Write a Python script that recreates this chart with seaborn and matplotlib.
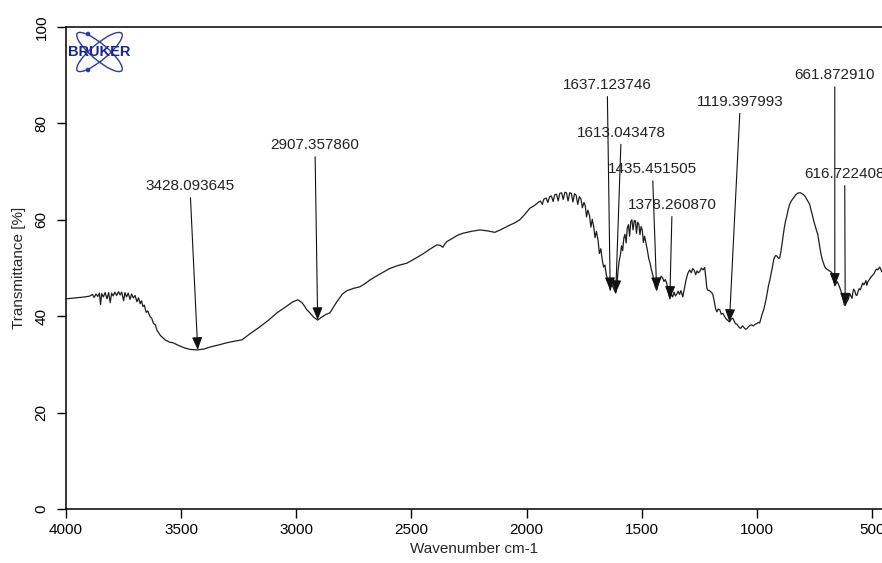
import seaborn as sns
import matplotlib.pyplot as plt
from matplotlib.patches import Ellipse, Circle

# spectrum (wavenumber in cm-1, transmittance in %)
wavenumber = [
    4000, 3980, 3961, 3940, 3918, 3905, 3896, 3885, 3878, 3870,
    3862, 3855, 3850, 3845, 3838, 3830, 3822, 3815, 3808, 3802,
    3795, 3788, 3780, 3772, 3765, 3758, 3750, 3744, 3737, 3730,
    3722, 3715, 3708, 3700, 3692, 3685, 3678, 3672, 3666, 3660,
    3652, 3645, 3635, 3628, 3620, 3612, 3605, 3590, 3570, 3550,
    3536, 3510, 3484, 3460, 3431, 3400, 3375, 3340, 3301, 3270,
    3236, 3200, 3158, 3120, 3084, 3050, 3015, 2993, 2975, 2963,
    2954, 2941, 2925, 2907, 2890, 2870, 2854, 2840, 2824, 2800,
    2780, 2750, 2724, 2700, 2681, 2650, 2620, 2594, 2560, 2520,
    2490, 2451, 2420, 2390, 2375, 2364, 2355, 2346, 2320, 2300,
    2277, 2240, 2203, 2170, 2138, 2110, 2073, 2050, 2030, 2010,
    1986, 1965, 1950, 1940, 1932, 1925, 1915, 1908, 1900, 1892,
    1885, 1878, 1870, 1863, 1856, 1848, 1841, 1834, 1827, 1820,
    1813, 1806, 1799, 1792, 1785, 1778, 1771, 1764, 1758, 1751,
    1745, 1740, 1734, 1727, 1721, 1715, 1709, 1703, 1697, 1690,
    1684, 1678, 1672, 1666, 1660, 1654, 1648, 1643, 1637, 1632,
    1627, 1621, 1613, 1608, 1603, 1598, 1593, 1588, 1583, 1578,
    1573, 1568, 1563, 1558, 1553, 1548, 1543, 1538, 1533, 1528,
    1523, 1518, 1513, 1508, 1503, 1498, 1493, 1488, 1482, 1476,
    1470, 1464, 1458, 1452, 1446, 1441, 1435, 1429, 1422, 1416,
    1410, 1404, 1398, 1392, 1385, 1378, 1372, 1366, 1360, 1354,
    1348, 1342, 1336, 1330, 1322, 1315, 1308, 1300, 1292, 1285,
    1279, 1272, 1266, 1260, 1254, 1248, 1241, 1234, 1227, 1222,
    1218, 1214, 1206, 1199, 1192, 1185, 1179, 1174, 1168, 1161,
    1155, 1148, 1142, 1135, 1128, 1119, 1112, 1105, 1099, 1093,
    1088, 1082, 1076, 1070, 1063, 1057, 1050, 1044, 1037, 1030,
    1023, 1016, 1008, 1000, 994, 988, 983, 977, 971, 966,
    960, 955, 950, 944, 938, 932, 927, 923, 918, 912,
    906, 901, 896, 891, 886, 881, 876, 871, 865, 858,
    851, 845, 838, 831, 824, 817, 811, 804, 797, 790,
    783, 777, 771, 765, 759, 753, 747, 741, 736, 731,
    726, 721, 716, 711, 706, 700, 694, 688, 682, 676,
    671, 667, 662, 657, 652, 646, 641, 636, 631, 626,
    621, 617, 612, 607, 602, 597, 592, 587, 584, 580,
    575, 570, 566, 561, 556, 551, 546, 541, 536, 531,
    527, 523, 518, 512, 507, 502, 497, 492, 488, 484,
    479, 475, 471, 467, 462, 458,
]
transmittance = [
    43.6, 43.7, 43.8, 43.9, 44.0, 44.1, 44.2, 44.5, 43.9, 44.6,
    44.1, 44.8, 42.4, 44.7, 44.0, 44.9, 43.6, 44.9, 42.8, 44.8,
    44.2, 45.0, 44.3, 45.1, 44.4, 45.0, 43.2, 44.9, 44.0, 44.8,
    43.5, 44.6, 43.8, 44.3, 43.0, 43.8, 42.6, 43.2, 42.0, 42.3,
    40.8, 41.1, 39.9, 39.6, 38.5, 38.2, 37.1, 36.0, 35.1, 34.6,
    34.5, 33.9, 33.4, 33.1, 33.0, 33.2, 33.6, 34.0, 34.5, 34.8,
    35.1, 36.4, 37.8, 39.2, 40.7, 41.8, 43.0, 43.4, 42.8, 42.0,
    41.3, 40.7, 39.8, 39.2, 39.8, 40.4, 40.7, 41.8, 43.0, 44.6,
    45.3, 45.8, 46.1, 46.8, 47.5, 48.4, 49.2, 49.9, 50.5, 51.0,
    51.8, 52.9, 53.9, 54.8, 54.7, 54.3, 55.0, 55.5, 56.2, 56.8,
    57.2, 57.6, 57.9, 57.7, 57.4, 58.0, 58.9, 59.4, 60.0, 61.0,
    62.4, 63.0, 63.6, 63.9, 63.2, 64.3, 64.5, 63.6, 64.8, 64.9,
    63.8, 65.2, 65.3, 63.9, 65.5, 65.6, 64.2, 65.7, 65.6, 63.9,
    65.6, 65.5, 63.7, 65.4, 65.1, 63.2, 64.8, 64.3, 62.5, 63.6,
    62.8, 60.6, 62.0, 60.9, 58.5, 60.1, 58.6, 56.3, 57.6, 55.8,
    53.0, 54.0, 51.8, 50.2, 50.6, 48.6, 47.5, 46.8, 45.4, 46.6,
    46.3, 45.6, 44.8, 46.5, 49.5, 51.5, 52.7, 54.6, 53.6, 56.2,
    57.0, 55.2, 58.3, 59.0, 56.6, 59.6, 60.0, 57.9, 59.8, 59.8,
    57.2, 59.5, 59.1, 56.9, 58.6, 57.9, 55.3, 56.6, 55.2, 53.8,
    52.0, 51.0, 49.6, 48.5, 47.0, 46.0, 45.4, 46.6, 47.5, 48.3,
    48.0, 47.2, 47.6, 46.9, 45.0, 43.6, 44.6, 44.0, 45.0, 44.2,
    44.6, 45.2, 44.5, 45.3, 44.0, 45.8, 47.5, 48.9, 49.6, 49.0,
    49.9, 49.5, 48.6, 49.4, 49.0, 49.3, 50.0, 49.6, 50.1, 48.0,
    46.0, 45.4, 45.3, 45.0, 44.6, 43.0, 41.5, 40.9, 41.5, 41.3,
    40.4, 40.6, 40.1, 39.5, 39.2, 38.8, 39.4, 39.6, 39.0, 38.4,
    38.4, 38.0, 37.6, 37.5, 38.0, 37.7, 37.3, 37.4, 37.8, 38.1,
    38.2, 38.0, 38.3, 38.5, 38.7, 38.6, 39.5, 40.5, 41.3, 42.3,
    43.6, 45.0, 46.3, 47.5, 48.9, 50.4, 51.8, 52.3, 52.6, 52.4,
    52.0, 52.1, 53.4, 55.0, 56.8, 58.4, 59.7, 60.6, 62.0, 63.2,
    63.9, 64.3, 64.8, 65.2, 65.5, 65.6, 65.6, 65.4, 65.2, 64.8,
    64.2, 63.7, 63.2, 62.0, 60.9, 59.7, 58.7, 57.7, 57.0, 55.5,
    54.0, 52.7, 51.7, 51.0, 50.3, 49.9, 49.7, 49.5, 49.3, 49.1,
    48.5, 47.6, 46.3, 46.7, 47.2, 46.6, 46.0, 45.3, 44.5, 43.4,
    42.4, 42.2, 42.8, 43.2, 43.7, 44.7, 44.2, 43.7, 44.8, 45.6,
    45.2, 44.4, 44.3, 45.1, 45.7, 45.5, 46.2, 46.9, 46.5, 46.9,
    47.4, 46.4, 47.2, 47.6, 47.9, 48.3, 48.5, 48.8, 49.2, 49.6,
    49.8, 49.6, 49.9, 50.2, 49.7, 49.2,
]

# picked peaks
peak_labels = ['3428.093645', '2907.357860', '1637.123746', '1613.043478', '1435.451505',
               '1378.260870', '1119.397993', '661.872910', '616.722408']
peak_wn = [3428.093645, 2907.357860, 1637.123746, 1613.043478, 1435.451505,
           1378.260870, 1119.397993, 661.872910, 616.722408]
peak_t = [33.0, 39.2, 45.4, 44.8, 45.4, 43.6, 38.8, 46.3, 42.2]
label_wn = [3462, 2919, 1650, 1589, 1454, 1368, 1072, 662, 619]
label_t = [67.0, 75.5, 88.0, 78.1, 70.5, 63.1, 84.5, 90.0, 69.5]

x_ticks = [4000, 3500, 3000, 2500, 2000, 1500, 1000, 500]
y_ticks = [0, 20, 40, 60, 80, 100]

sns.set_style('ticks')
plt.rcParams['font.family'] = ['Liberation Sans', 'DejaVu Sans']

fig = plt.figure(figsize=(8.82, 5.63), dpi=100)
ax = fig.add_axes([66/882, 54/563, 816/882, 482/563])

sns.lineplot(x=wavenumber, y=transmittance, ax=ax, color='#1e1e1e', lw=0.9,
             estimator=None, sort=False)

for lab, px, py, tx, ty in zip(peak_labels, peak_wn, peak_t, label_wn, label_t):
    ax.annotate(lab, xy=(px, py), xytext=(tx, ty), ha='center', va='center',
                fontsize=11, color='#222222', annotation_clip=False,
                arrowprops=dict(arrowstyle='-|>,head_length=0.55,head_width=0.22',
                                color='#111111', lw=0.8, mutation_scale=14,
                                shrinkA=1, shrinkB=0))

ax.set_xlim(4000, 457)
ax.set_ylim(0, 100)
ax.set_xticks(x_ticks)
ax.set_yticks(y_ticks)
ax.tick_params(axis='both', direction='out', length=6.5, width=1, labelsize=11,
               colors='black')
ax.tick_params(axis='x', pad=3.5)
ax.tick_params(axis='y', pad=6)
for lbl in ax.get_yticklabels():
    lbl.set_rotation(90)
    lbl.set_va('center')
ax.set_xlabel('Wavenumber cm-1', fontsize=11, labelpad=4)
ax.set_ylabel('Transmittance [%]', fontsize=11, labelpad=6)
ax.spines['right'].set_visible(False)
for s in ['left', 'bottom', 'top']:
    ax.spines[s].set_linewidth(1.1)
    ax.spines[s].set_color('black')

# Bruker logo (pixel units inside a tiny axes)
logo = fig.add_axes([66/882, (563-75)/563, 66/882, 45/563])
logo.set_xlim(0, 66)
logo.set_ylim(0, 45)
logo.axis('off')
blue = '#2a3aa8'
logo.add_patch(Ellipse((33.5, 23), 58, 16, angle=-40, fill=False, ec=blue, lw=1.0))
logo.add_patch(Ellipse((33.5, 23), 58, 16, angle=40, fill=False, ec=blue, lw=1.0))
logo.add_patch(Circle((22, 41), 1.6, color=blue))
logo.add_patch(Circle((22, 5), 1.6, color=blue))
logo.text(33.5, 22.5, 'BRUKER', ha='center', va='center', fontsize=10.5,
          fontweight='bold', color='#1a2590')

fig.savefig('out.png', dpi=100)
